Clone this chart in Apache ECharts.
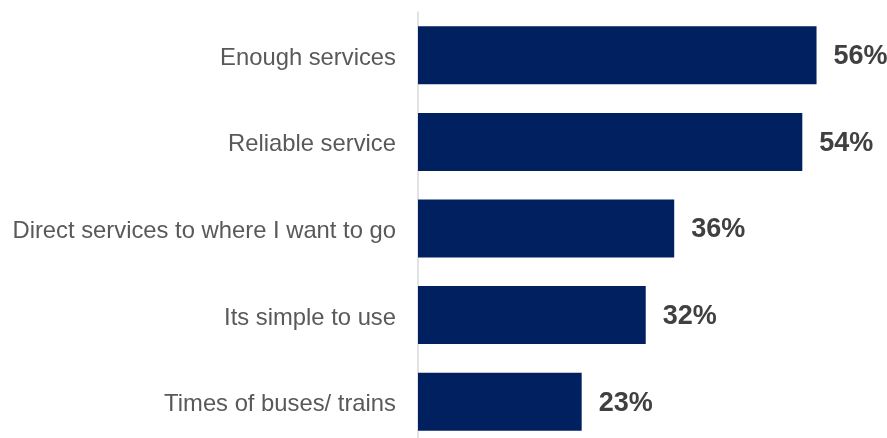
<!DOCTYPE html>
<html>
<head>
<meta charset="utf-8">
<script src="https://cdn.jsdelivr.net/npm/echarts@6/dist/echarts.min.js"></script>
<style>
  html, body { margin: 0; padding: 0; background: #ffffff; overflow: hidden; }
  #chart { width: 887px; height: 446px; }
</style>
</head>
<body>
<div id="chart"></div>
<script>
// Reasons given, listed top to bottom
const categories = [
  'Enough services',
  'Reliable service',
  'Direct services to where I want to go',
  'Its simple to use',
  'Times of buses/ trains'
];
// Share of respondents (%)
const values = [56, 54, 36, 32, 23];

const chart = echarts.init(document.getElementById('chart'), null, { renderer: 'canvas' });

chart.setOption({
  animation: false,
  backgroundColor: '#ffffff',
  grid: { left: 418, top: 12, width: 427, height: 433, containLabel: false },
  xAxis: {
    type: 'value',
    min: 0,
    max: 60,
    show: false
  },
  yAxis: {
    type: 'category',
    data: categories,
    inverse: true,
    axisLine: { show: true, lineStyle: { color: '#d9d9d9', width: 1.5 } },
    axisTick: { show: false },
    axisLabel: {
      margin: 22,
      verticalAlign: 'top',
      lineHeight: 6,
      color: '#595959',
      fontSize: 23.8,
      fontFamily: 'Liberation Sans, Arial, sans-serif'
    },
    splitLine: { show: false }
  },
  series: [{
    type: 'bar',
    data: values,
    barWidth: 58,
    itemStyle: { color: '#002060' },
    label: {
      show: true,
      position: 'right',
      distance: 17,
      verticalAlign: 'top',
      lineHeight: 3,
      formatter: '{c}%',
      color: '#404040',
      fontSize: 27,
      fontWeight: 'bold',
      fontFamily: 'Liberation Sans, Arial, sans-serif'
    }
  }]
});
</script>
</body>
</html>
